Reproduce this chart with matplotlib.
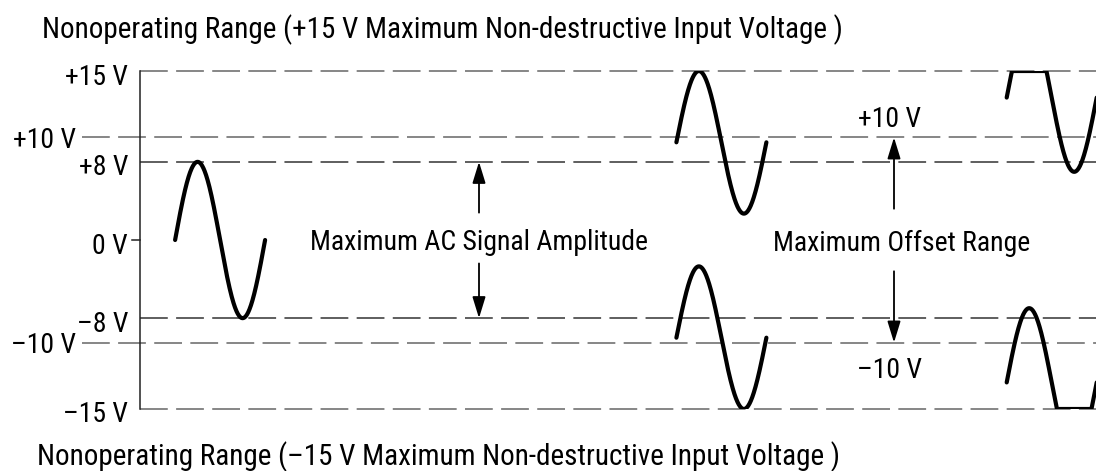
import numpy as np
import matplotlib
matplotlib.use("Agg")
import matplotlib.pyplot as plt

plt.rcParams['font.family'] = ['Nimbus Sans Narrow', 'Liberation Sans Narrow',
                               'Roboto Condensed', 'Archivo Narrow', 'DejaVu Sans']
plt.rcParams['lines.scale_dashes'] = False

# voltage levels and their (not to scale) position on the schematic
level_volts = [-15, -10, -8, 0, 8, 10, 15]
level_pos = [-17.3, -10.5, -8.0, 0.0, 8.0, 10.5, 17.3]
level_labels = ['–15 V', '–10 V', '–8 V', '0 V', '+8 V', '+10 V', '+15 V']

# waveforms: start (in periods), centre voltage, amplitude (schematic units)
wave_start = [0.39, 5.96, 5.96, 9.63, 9.63]
wave_center = [0, 9.6, -9.6, 13, -13]
wave_amp = [8.0, 7.3, 7.3, 7.6, 7.6]
clip_volts = 15

FS = 20


def fwd(v):
    return np.interp(v, level_volts, level_pos)


def inv(p):
    return np.interp(p, level_pos, level_volts)


fig = plt.figure(figsize=(10.96, 4.71), dpi=100)
ax = fig.add_axes([140 / 1096, 62 / 471, 956 / 1096, 338 / 471])
ax.set_yscale('function', functions=(fwd, inv))
ax.set_ylim(-15, 15)
ax.set_xlim(0, 956 / 90)
ax.set_xticks([])
ax.set_yticks([])
for s in ['top', 'right', 'bottom']:
    ax.spines[s].set_visible(False)
ax.spines['left'].set_linewidth(1.1)
ax.spines['left'].set_color('#222222')

# dashed level lines
for v in level_volts:
    if v == 0:
        continue
    x0 = -0.644 if abs(v) == 10 else 0
    col = '#333333' if abs(v) == 8 else '#666666'
    ax.plot([x0, 12], [v, v], color=col, lw=1.1, dashes=(20, 6),
            clip_on=False, zorder=1)

# level labels
for v, lab in zip(level_volts, level_labels):
    off = 64 if abs(v) == 10 else 12
    dy = 0 if abs(v) == 10 else -3
    ax.annotate(lab, xy=(0, v), xycoords=('axes fraction', 'data'),
                xytext=(-off, dy), textcoords='offset pixels',
                ha='right', va='center_baseline', fontsize=FS)
ax.plot([-8 / 90, 0], [0, 0], color='#222222', lw=1.1, clip_on=False)

# waveforms
for x0, c, a in zip(wave_start, wave_center, wave_amp):
    t = np.linspace(0, 1, 300)
    p = fwd(c) + a * np.sin(2 * np.pi * t)
    p = np.clip(p, fwd(-clip_volts), fwd(clip_volts))
    ax.plot(x0 + t, inv(p), color='black', lw=3.0, solid_capstyle='round',
            zorder=3)

arrow = dict(arrowstyle='-|>,head_length=1.3,head_width=0.4', color='black',
             lw=1.3, shrinkA=0, shrinkB=0, mutation_scale=10)

# AC amplitude annotation
xa = (479 - 140) / 90
ax.annotate('', xy=(xa, 8), xytext=(xa, 2.8), arrowprops=arrow)
ax.annotate('', xy=(xa, -8), xytext=(xa, -2.4), arrowprops=arrow)
ax.text(xa, 0, 'Maximum AC Signal Amplitude', ha='center',
        va='center_baseline', fontsize=FS)

# offset range annotation
xo = (894 - 140) / 90
ax.annotate('', xy=(xo, 10), xytext=(xo, 3.2), arrowprops=arrow)
ax.annotate('', xy=(xo, -10), xytext=(xo, -3.2), arrowprops=arrow)
ax.text((902 - 140) / 90, 0, 'Maximum Offset Range', ha='center',
        va='center_baseline', fontsize=FS)
ax.text((889 - 140) / 90, 11.6, '+10 V', ha='center', va='center_baseline',
        fontsize=FS)
ax.text((889 - 140) / 90, -11.9, '–10 V', ha='center', va='center_baseline',
        fontsize=FS)

fig.text(42 / 1096, 1 - 38 / 471,
         'Nonoperating Range (+15 V Maximum Non-destructive Input Voltage )',
         ha='left', va='baseline', fontsize=21)
fig.text(37 / 1096, 1 - 465 / 471,
         'Nonoperating Range (–15 V Maximum Non-destructive Input Voltage )',
         ha='left', va='baseline', fontsize=21)

fig.savefig('out.png', dpi=100)
plt.close(fig)
